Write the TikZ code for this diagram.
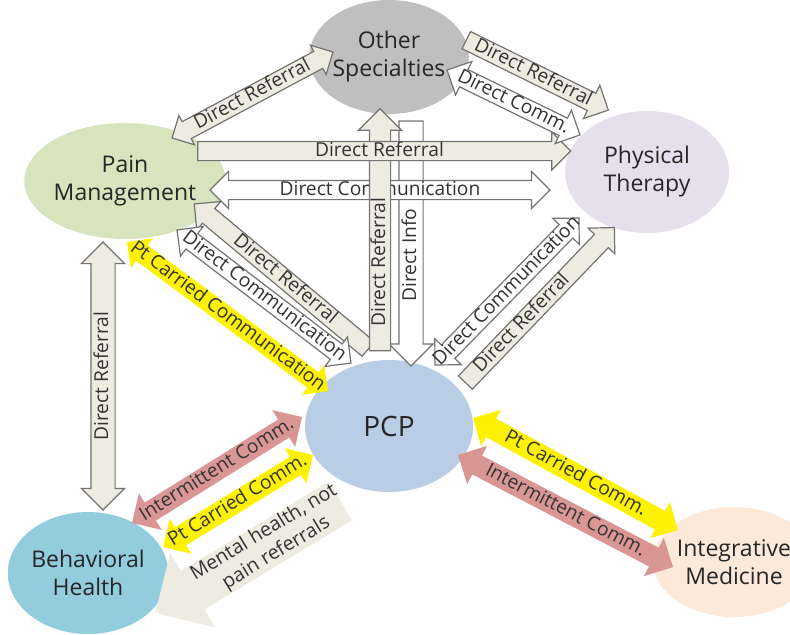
\documentclass[tikz,border=0pt]{standalone}
\usepackage{fontspec}
\setmainfont{Open Sans}
\usetikzlibrary{shapes.geometric,shapes.arrows,calc}

\definecolor{paper}{HTML}{EEECE1}
\definecolor{linegray}{HTML}{737373}
\definecolor{rose}{HTML}{D99694}
\definecolor{othergray}{HTML}{BFBFBF}
\definecolor{ptlilac}{HTML}{E6E0EC}
\definecolor{pmgreen}{HTML}{D7E4BD}
\definecolor{pcpblue}{HTML}{B9CDE5}
\definecolor{bhteal}{HTML}{93CDDD}
\definecolor{impeach}{HTML}{FDE9D9}

% block arrow laid from one point to another, text along it
\newcommand\conn[5][]{%
  \path let \p1=#3, \p2=#4, \n1={atan2(\y2-\y1,\x2-\x1)}, \n2={veclen(\x2-\x1,\y2-\y1)} in
    node[#1, rotate=\n1, minimum height=\n2] (#2) at ($#3!.5!#4$) {\makebox[0pt]{#5}};}

\begin{document}
\begin{tikzpicture}[x=0.5pt, y=-0.5pt,
  font=\fontsize{9.6}{12}\selectfont,
  unit/.style={ellipse, inner sep=0pt, align=center, text=black!85, font=\fontsize{11.5}{14}\selectfont},
  link/.style={text height=7pt, text depth=2pt, inner sep=0pt, text=black!80, line width=0.6pt},
  one/.style={link, single arrow, single arrow head extend=#1},
  one/.default=4.5pt,
  two/.style={link, double arrow, double arrow head extend=#1},
  two/.default=4.5pt,
  ref/.style={draw=linegray, fill=paper},
  com/.style={draw=linegray, fill=white},
  carried/.style={fill=yellow},
  intermit/.style={fill=rose},
]
\clip (0,0) rectangle (790,634);

% clinics
\node[unit, fill=othergray, minimum width=68pt, minimum height=57pt] (os) at (389,57) {Other\\Specialties};
\node[unit, fill=ptlilac, minimum width=82pt, minimum height=61pt] (pt) at (647,172) {Physical\\Therapy};
\node[unit, fill=pmgreen, minimum width=80pt, minimum height=58pt] (pm) at (125,181) {Pain\\Management};
\node[unit, fill=pcpblue, minimum width=84pt, minimum height=66pt, font=\fontsize{14}{16}\selectfont] (pcp) at (389,426) {PCP};
\node[unit, fill=bhteal, minimum width=78pt, minimum height=61pt] (bh) at (88,573) {Behavioral\\Health};
\node[unit, fill=impeach, minimum width=62pt, minimum height=55pt] (im) at (734,562) {Integrative\\Medicine};

% lower links
\conn[one=10.5pt, fill=paper, inner ysep=6.5pt, shape border rotate=180, font=\fontsize{9.8}{12}\selectfont]{mh}{(165,607)}{(350,495)}{\kern15pt\begin{tabular}{@{}c@{}}Mental health, not\\pain referrals\end{tabular}}
\conn[two=5.5pt, intermit, inner ysep=.5pt]{icbh}{(132,523)}{(302,417)}{Intermittent Comm.}
\conn[two=5pt, carried, inner ysep=.5pt]{ptbh}{(163,547)}{(313,455)}{Pt Carried Comm.}
\conn[two=5pt, carried, inner ysep=.5pt]{ptim}{(473,418)}{(678,530)}{Pt Carried Comm.}
\conn[two=5.5pt, intermit, inner ysep=.5pt]{icim}{(458,455)}{(673,567)}{Intermittent Comm.}

% pain management and the upper links
\conn[two=4.75pt, ref, inner ysep=1.25pt]{drbh}{(103,510)}{(103,242)}{Direct Referral}
\conn[two=3.5pt, ref]{dros}{(172,138)}{(333,52)}{Direct Referral}
\conn[one=5pt, com, inner ysep=1.25pt, shape border rotate=180]{dinfo}{(411,360)}{(411,115)}{\kern-17.5pt Direct Info}
\conn[two, com]{dcpt}{(210,190)}{(550,190)}{Direct Communication}
\conn[one, ref, shape border rotate=180]{drpm}{(198,207)}{(372,352)}{Direct Referral}
\conn[two, com]{dcpm}{(177,230)}{(351,363)}{Direct Communication}
\conn[two, carried]{ptpm}{(127,242)}{(328,391)}{Pt Carried Communication}
\conn[one=5.5pt, ref, inner ysep=.5pt]{drup}{(380,356)}{(380,114)}{\kern-27pt Direct Referral}
\conn[one=4.75pt, ref]{drpt}{(193,151)}{(566,151)}{Direct Referral}
\conn[one, ref]{drospt}{(462,38)}{(604,108)}{Direct Referral}
\conn[two, com]{dcospt}{(447,70)}{(580,135)}{Direct Comm.}
\conn[two, com]{dcpcp}{(435,365)}{(579,218)}{Direct Communication}
\conn[one, ref]{drpcp}{(462,386)}{(611,231)}{\kern-21pt Direct Referral}
\end{tikzpicture}
\end{document}
